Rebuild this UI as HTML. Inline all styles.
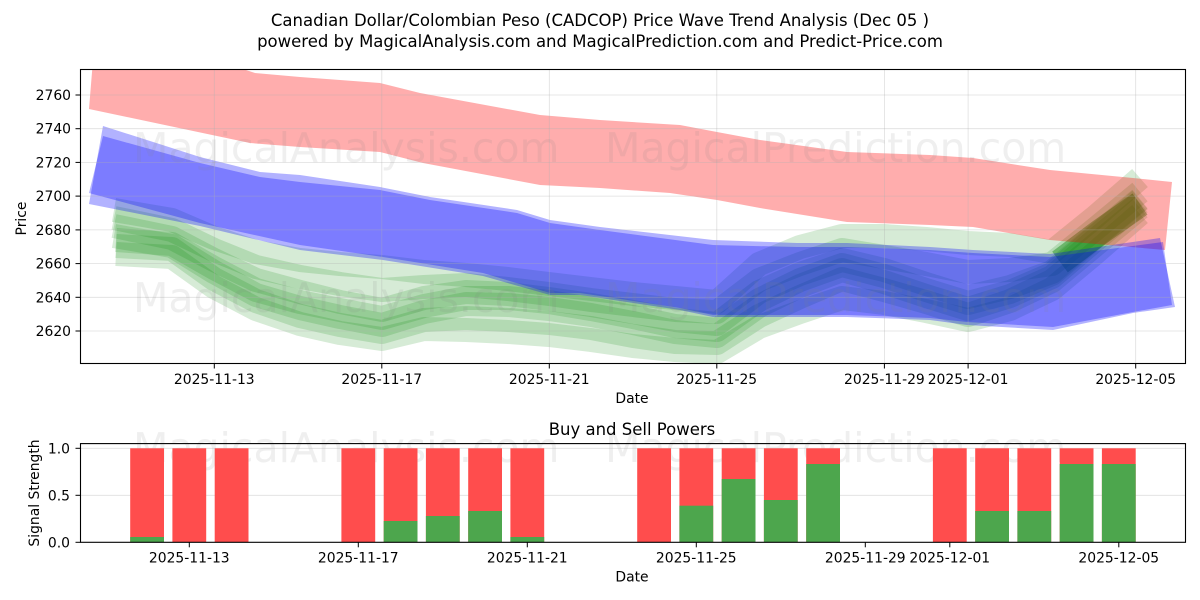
<!DOCTYPE html>
<html><head><meta charset="utf-8"><style>
html,body{margin:0;padding:0;background:#fff;}
svg{display:block;}
text{font-family:"DejaVu Sans","Liberation Sans",sans-serif;fill:#000;}
</style></head><body>
<svg width="1200" height="600" viewBox="0 0 1200 600" xmlns="http://www.w3.org/2000/svg">
<defs>
<clipPath id="c1"><rect x="80.5" y="69.5" width="1105" height="294"/></clipPath>
<clipPath id="c2"><rect x="80.5" y="443.6" width="1105" height="98.7"/></clipPath>
</defs>
<rect width="1200" height="600" fill="#fff"/>
<!-- Titles -->
<text x="600" y="26" font-size="16.5" text-anchor="middle">Canadian Dollar/Colombian Peso (CADCOP) Price Wave Trend Analysis (Dec 05 )</text>
<text x="600" y="47" font-size="16.5" text-anchor="middle">powered by MagicalAnalysis.com and MagicalPrediction.com and Predict-Price.com</text>

<!-- TOP CHART -->
<g clip-path="url(#c1)">
<g fill="none" stroke="rgb(0,128,0)" stroke-width="24" stroke-opacity="0.16" stroke-linejoin="round" stroke-linecap="butt">
<polyline points="114,210 172,220 214,238 256,252 300,260 340,264 382,267 424,272 466,275 508,279 549,284 591,289 633,294 675,298 717,302 759,264 800,247 842,236 884,236 926,239 968,243 1010,245 1052,252 1094,218 1140,178"/>
<polyline points="114,218 172,230 214,250 256,267 300,277 340,284 382,290 424,287 466,285 508,289 549,294 591,300 633,305 675,310 717,312 759,280 800,264 842,250 884,257 926,264 968,272 1010,270 1052,264 1094,230 1140,192"/>
<polyline points="114,226 172,238 214,260 256,280 300,292 340,302 382,310 424,298 466,292 508,294 549,299 591,305 633,312 675,320 717,324 759,292 800,274 842,260 884,270 926,284 968,297 1010,287 1052,272 1094,237 1140,199"/>
<polyline points="114,236 172,246 214,272 256,295 300,308 340,317 382,325 424,312 466,304 508,305 549,309 591,315 633,323 675,332 717,336 759,306 800,286 842,270 884,282 926,296 968,309 1010,296 1052,277 1094,241 1140,203"/>
<polyline points="116,246 172,249 214,279 256,301 300,316 340,325 382,332 424,320 466,318 508,320 549,323 591,328 633,336 675,342 717,343 759,316 800,297 842,279 884,290 926,302 968,315 1010,301 1052,281 1094,246 1140,208"/>
<polyline points="116,254 172,257 214,287 256,309 300,324 340,333 382,339 424,329 466,330 508,332 549,335 591,340 633,346 675,350 717,352 759,327 800,312 842,298 884,303 926,311 968,320 1010,309 1052,289 1094,254 1140,214"/>
<polyline points="116,240 172,244 214,268 256,290 300,302 340,310 382,318 424,306 466,298 508,298 549,302 591,309 633,317 675,326 717,330 759,300 800,280 842,265 884,276 926,290 968,303 1010,292 1052,274 1094,238 1140,200"/>
<polyline points="1060,262 1100,232 1140,204" stroke-width="26" stroke-opacity="0.4"/>
</g>
<!-- red band -->
<polygon fill="rgb(255,0,0)" fill-opacity="0.32" points="93,60 240,68 255,73 300,77 380,83 420,93 540,115 600,120 680,125 717,132 760,140 847,152 930,155 973,158 1050,170 1133,178 1172,182 1165,250 1050,240 973,227 930,225 847,222 760,208 717,200 670,193 600,188 540,185 423,163 380,152 300,147 250,143 89,109"/>
<!-- blue outer -->
<polygon fill="rgb(0,0,255)" fill-opacity="0.3" points="103,126 200,157 260,172 300,175 380,187 430,197 517,210 550,220 600,227 713,240 797,243 847,243 930,247 973,250 1050,254 1160,238 1175,307 1133,313 1053,330 967,325 930,320 847,317 713,317 680,310 580,295 550,295 483,276 383,260 300,250 200,226 89,204"/>
<!-- blue inner -->
<polygon fill="rgb(0,0,255)" fill-opacity="0.3" points="103,136 200,163 260,177 300,182 380,190 430,200 517,213 550,223 600,230 713,245 797,247 847,247 930,250 973,253 1050,257 1163,242 1172,305 1133,312 1053,327 967,322 930,318 847,315 713,315 680,308 580,293 550,293 483,273 383,257 300,245 200,223 89,193"/>
</g>
<!-- grid -->
<g stroke="#b0b0b0" stroke-opacity="0.4" stroke-width="0.8">
<line x1="80.5" x2="1185.5" y1="95" y2="95"/>
<line x1="80.5" x2="1185.5" y1="128.7" y2="128.7"/>
<line x1="80.5" x2="1185.5" y1="162.4" y2="162.4"/>
<line x1="80.5" x2="1185.5" y1="196.1" y2="196.1"/>
<line x1="80.5" x2="1185.5" y1="229.9" y2="229.9"/>
<line x1="80.5" x2="1185.5" y1="263.6" y2="263.6"/>
<line x1="80.5" x2="1185.5" y1="297.3" y2="297.3"/>
<line x1="80.5" x2="1185.5" y1="331" y2="331"/>
<line y1="69.5" y2="363.5" x1="214.3" x2="214.3"/>
<line y1="69.5" y2="363.5" x1="381.8" x2="381.8"/>
<line y1="69.5" y2="363.5" x1="549.3" x2="549.3"/>
<line y1="69.5" y2="363.5" x1="716.8" x2="716.8"/>
<line y1="69.5" y2="363.5" x1="884.4" x2="884.4"/>
<line y1="69.5" y2="363.5" x1="968.1" x2="968.1"/>
<line y1="69.5" y2="363.5" x1="1135.7" x2="1135.7"/>
</g>
<!-- watermarks -->
<g font-size="41" fill="#808080" fill-opacity="0.13">
<text x="133" y="162" style="fill:#808080">MagicalAnalysis.com</text>
<text x="605" y="162" style="fill:#808080">MagicalPrediction.com</text>
<text x="133" y="312" style="fill:#808080">MagicalAnalysis.com</text>
<text x="605" y="312" style="fill:#808080">MagicalPrediction.com</text>
<text x="133" y="462" style="fill:#808080">MagicalAnalysis.com</text>
<text x="605" y="462" style="fill:#808080">MagicalPrediction.com</text>
</g>
<rect x="80.5" y="69.5" width="1105" height="294" fill="none" stroke="#000" stroke-width="1.1"/>
<!-- ticks -->
<g stroke="#000" stroke-width="1">
<line x1="75.5" x2="80.5" y1="95" y2="95"/>
<line x1="75.5" x2="80.5" y1="128.7" y2="128.7"/>
<line x1="75.5" x2="80.5" y1="162.4" y2="162.4"/>
<line x1="75.5" x2="80.5" y1="196.1" y2="196.1"/>
<line x1="75.5" x2="80.5" y1="229.9" y2="229.9"/>
<line x1="75.5" x2="80.5" y1="263.6" y2="263.6"/>
<line x1="75.5" x2="80.5" y1="297.3" y2="297.3"/>
<line x1="75.5" x2="80.5" y1="331" y2="331"/>
<line y1="363.5" y2="368.5" x1="214.3" x2="214.3"/>
<line y1="363.5" y2="368.5" x1="381.8" x2="381.8"/>
<line y1="363.5" y2="368.5" x1="549.3" x2="549.3"/>
<line y1="363.5" y2="368.5" x1="716.8" x2="716.8"/>
<line y1="363.5" y2="368.5" x1="884.4" x2="884.4"/>
<line y1="363.5" y2="368.5" x1="968.1" x2="968.1"/>
<line y1="363.5" y2="368.5" x1="1135.7" x2="1135.7"/>
</g>
<g font-size="13.9" text-anchor="end">
<text x="71" y="100">2760</text>
<text x="71" y="133.7">2740</text>
<text x="71" y="167.4">2720</text>
<text x="71" y="201.1">2700</text>
<text x="71" y="234.9">2680</text>
<text x="71" y="268.6">2660</text>
<text x="71" y="302.3">2640</text>
<text x="71" y="336">2620</text>
</g>
<g font-size="13.9" text-anchor="middle">
<text x="214.3" y="384">2025-11-13</text>
<text x="381.8" y="384">2025-11-17</text>
<text x="549.3" y="384">2025-11-21</text>
<text x="716.8" y="384">2025-11-25</text>
<text x="884.4" y="384">2025-11-29</text>
<text x="968.1" y="384">2025-12-01</text>
<text x="1135.7" y="384">2025-12-05</text>
<text x="632" y="403">Date</text>
<text transform="translate(26,218.5) rotate(-90)">Price</text>
</g>

<!-- BOTTOM CHART -->
<text x="632" y="435" font-size="16.5" text-anchor="middle">Buy and Sell Powers</text>
<g stroke="#b0b0b0" stroke-opacity="0.4" stroke-width="0.8">
<line x1="80.5" x2="1185.5" y1="448.3" y2="448.3"/>
<line x1="80.5" x2="1185.5" y1="495.3" y2="495.3"/>
</g>
<g clip-path="url(#c2)">
<g fill="rgb(255,77,77)">
<rect x="130.2" y="448.3" width="33.8" height="94"/>
<rect x="172.4" y="448.3" width="33.8" height="94"/>
<rect x="214.7" y="448.3" width="33.8" height="94"/>
<rect x="341.4" y="448.3" width="33.8" height="94"/>
<rect x="383.7" y="448.3" width="33.8" height="94"/>
<rect x="425.9" y="448.3" width="33.8" height="94"/>
<rect x="468.2" y="448.3" width="33.8" height="94"/>
<rect x="510.4" y="448.3" width="33.8" height="94"/>
<rect x="637.2" y="448.3" width="33.8" height="94"/>
<rect x="679.4" y="448.3" width="33.8" height="94"/>
<rect x="721.7" y="448.3" width="33.8" height="94"/>
<rect x="763.9" y="448.3" width="33.8" height="94"/>
<rect x="806.2" y="448.3" width="33.8" height="94"/>
<rect x="932.9" y="448.3" width="33.8" height="94"/>
<rect x="975.2" y="448.3" width="33.8" height="94"/>
<rect x="1017.4" y="448.3" width="33.8" height="94"/>
<rect x="1059.7" y="448.3" width="33.8" height="94"/>
<rect x="1101.9" y="448.3" width="33.8" height="94"/>
</g>
<g fill="rgb(77,166,77)">
<rect x="130.2" y="537" width="33.8" height="5.3"/>
<rect x="383.7" y="521" width="33.8" height="21.3"/>
<rect x="425.9" y="516" width="33.8" height="26.3"/>
<rect x="468.2" y="511" width="33.8" height="31.3"/>
<rect x="510.4" y="537" width="33.8" height="5.3"/>
<rect x="679.4" y="505.7" width="33.8" height="36.6"/>
<rect x="721.7" y="479" width="33.8" height="63.3"/>
<rect x="763.9" y="500" width="33.8" height="42.3"/>
<rect x="806.2" y="464" width="33.8" height="78.3"/>
<rect x="975.2" y="511" width="33.8" height="31.3"/>
<rect x="1017.4" y="511" width="33.8" height="31.3"/>
<rect x="1059.7" y="464" width="33.8" height="78.3"/>
<rect x="1101.9" y="464" width="33.8" height="78.3"/>
</g>
</g>
<rect x="80.5" y="443.6" width="1105" height="98.7" fill="none" stroke="#000" stroke-width="1.1"/>
<g stroke="#000" stroke-width="1">
<line x1="75.5" x2="80.5" y1="448.3" y2="448.3"/>
<line x1="75.5" x2="80.5" y1="495.3" y2="495.3"/>
<line x1="75.5" x2="80.5" y1="542.3" y2="542.3"/>
<line y1="542.3" y2="547.3" x1="189.3" x2="189.3"/>
<line y1="542.3" y2="547.3" x1="358.3" x2="358.3"/>
<line y1="542.3" y2="547.3" x1="527.3" x2="527.3"/>
<line y1="542.3" y2="547.3" x1="696.3" x2="696.3"/>
<line y1="542.3" y2="547.3" x1="865.3" x2="865.3"/>
<line y1="542.3" y2="547.3" x1="949.8" x2="949.8"/>
<line y1="542.3" y2="547.3" x1="1118.8" x2="1118.8"/>
</g>
<g font-size="13.9" text-anchor="end">
<text x="70" y="453.3">1.0</text>
<text x="70" y="500.3">0.5</text>
<text x="70" y="547.3">0.0</text>
</g>
<g font-size="13.9" text-anchor="middle">
<text x="189.3" y="562.7">2025-11-13</text>
<text x="358.3" y="562.7">2025-11-17</text>
<text x="527.3" y="562.7">2025-11-21</text>
<text x="696.3" y="562.7">2025-11-25</text>
<text x="865.3" y="562.7">2025-11-29</text>
<text x="949.8" y="562.7">2025-12-01</text>
<text x="1118.8" y="562.7">2025-12-05</text>
<text x="632" y="581.7">Date</text>
<text transform="translate(39,493) rotate(-90)">Signal Strength</text>
</g>
</svg>
</body></html>
